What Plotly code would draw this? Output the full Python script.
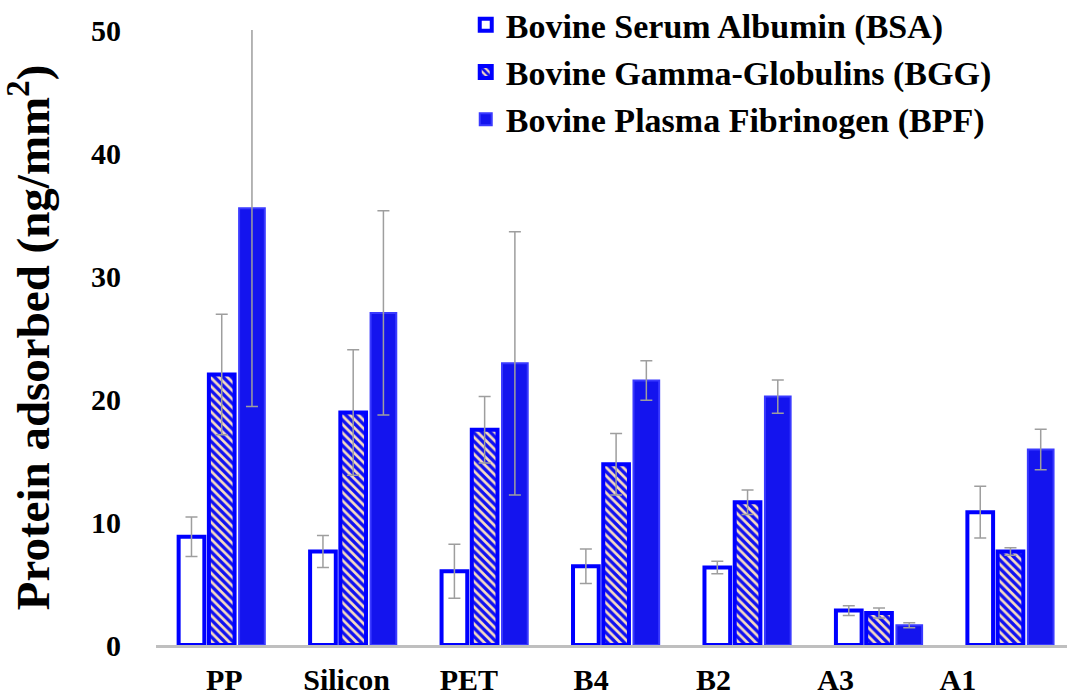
import plotly.graph_objects as go

categories = ["PP", "Silicon", "PET", "B4", "B2", "A3", "A1"]
series_names = ["Bovine Serum Albumin (BSA)", "Bovine Gamma-Globulins (BGG)", "Bovine Plasma Fibrinogen (BPF)"]
bsa = [8.8, 7.6, 6.0, 6.4, 6.3, 2.8, 10.8]
bsa_err = [1.6, 1.3, 2.2, 1.4, 0.5, 0.4, 2.1]
bgg = [22.0, 18.9, 17.5, 14.7, 11.6, 2.6, 7.6]
bgg_err = [4.9, 5.1, 2.7, 2.5, 1.0, 0.4, 0.3]
bpf = [35.5, 27.0, 22.9, 21.5, 20.2, 1.6, 15.9]
bpf_err = [16.1, 8.3, 10.7, 1.6, 1.35, 0.2, 1.65]
y_ticks = [0, 10, 20, 30, 40, 50]

xs = list(range(len(categories)))
tick_pos = [0.02 + 0.93 * i for i in xs]

err_style = dict(type="data", visible=True, color="#9E9E9E", thickness=1.5, width=6)
font_family = "Liberation Serif"

fig = go.Figure()
fig.add_trace(go.Bar(
    x=xs, y=bsa, name=series_names[0], legendgroup="a",
    marker=dict(color="white", line=dict(color="#0000FF", width=4)),
    error_y=dict(array=bsa_err, **err_style),
))
fig.add_trace(go.Bar(
    x=xs, y=bgg, name=series_names[1], legendgroup="b",
    marker=dict(color="#F5D2B0", line=dict(color="#0000FF", width=4),
                pattern=dict(shape="\\", fgcolor="#1010F0", bgcolor="#F8DCC0",
                             size=6, solidity=0.55, fillmode="replace")),
    error_y=dict(array=bgg_err, **err_style),
))
fig.add_trace(go.Bar(
    x=xs, y=bpf, name=series_names[2], legendgroup="c",
    marker=dict(color="#1414EE", line=dict(color="#3A3AFF", width=2)),
    error_y=dict(array=bpf_err, **err_style),
))

fig.update_layout(
    width=1067, height=699,
    margin=dict(l=156, r=0, t=30, b=54, autoexpand=False),
    paper_bgcolor="white", plot_bgcolor="white",
    barmode="group", bargap=0.31, bargroupgap=0.15,
    font=dict(family=font_family, color="black"),
    showlegend=True,
    legend=dict(x=0.34, y=1.055, xanchor="left", yanchor="top",
                font=dict(family=font_family, size=34, color="black", weight="bold"),
                tracegroupgap=8, bgcolor="rgba(0,0,0,0)", traceorder="normal"),
    xaxis=dict(range=[-0.5, 6.43], tickmode="array", tickvals=tick_pos, ticktext=categories,
               showline=True, linecolor="#BFBFBF", linewidth=3, ticks="",
               showgrid=False, zeroline=False, ticklabelstandoff=6, automargin=False,
               tickfont=dict(family=font_family, size=30, color="black", weight="bold")),
    yaxis=dict(range=[0, 50], tickmode="array", tickvals=y_ticks,
               ticktext=[str(v) for v in y_ticks],
               showline=False, showgrid=False, zeroline=False, ticks="",
               ticklabelstandoff=34, automargin=False,
               tickfont=dict(family=font_family, size=30, color="black", weight="bold")),
)
fig.update_yaxes(title=dict(text="Protein adsorbed (ng/mm<sup>2</sup>)", standoff=34,
                            font=dict(family=font_family, size=47, color="black", weight="bold")))

fig.write_html("out.html")
